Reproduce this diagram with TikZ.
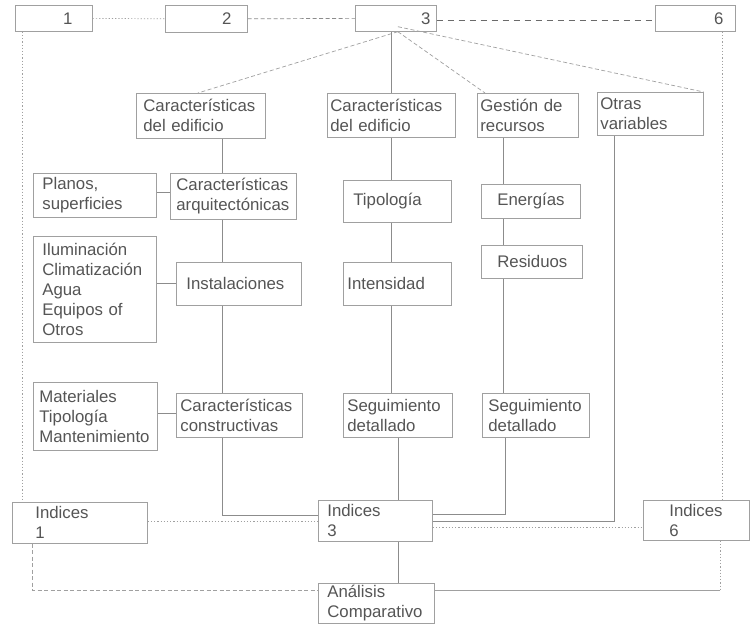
\documentclass[tikz,border=0pt]{standalone}
\usepackage{fontspec}
\setmainfont{Liberation Sans}
\usetikzlibrary{calc}
\definecolor{txt}{HTML}{555555}
\definecolor{frame}{HTML}{A0A0A0}
\definecolor{wire}{HTML}{8C8C8C}
\definecolor{darkwire}{HTML}{6A6A6A}
\begin{document}
\begin{tikzpicture}[x=1pt,y=-1pt,
  box/.style={draw=frame, line width=0.7pt, anchor=north west, inner xsep=0pt, inner ysep=0pt,
    align=left, text=txt, font=\fontsize{16.8}{20}\selectfont},
  numbox/.style={box, align=right},
  wired/.style={draw=wire, line width=0.8pt},
  dashwire/.style={draw=wire, line width=0.7pt, dash pattern=on 4pt off 2.5pt},
  dotwire/.style={draw=frame, line width=0.7pt, dash pattern=on 1.2pt off 2pt},
  bolddash/.style={draw=darkwire, line width=1.1pt, dash pattern=on 6pt off 5pt}]
\useasboundingbox (0,0) rectangle (750,627);
\fill[white] (0,0) rectangle (750,627);

% column and rail positions
\coordinate (colA) at (222,0);
\coordinate (colB) at (391,0);
\coordinate (colB2) at (398,0);
\coordinate (colC) at (503,0);
\coordinate (colC2) at (505,0);
\coordinate (colD) at (614,0);
\coordinate (colL) at (22,0);
\coordinate (colL2) at (32,0);
\coordinate (colR) at (722,0);
\coordinate (colR2) at (720,0);
\coordinate (railA) at (0,515);
\coordinate (railC) at (0,514);
\coordinate (railD) at (0,521);
\coordinate (railI1) at (0,521);
\coordinate (railI6) at (0,527);
\coordinate (railB) at (0,590);

% top row
\node[numbox, minimum width=77, minimum height=26, text width=37] (n1) at (15,5) {1};
\node[numbox, minimum width=82, minimum height=27, text width=50] (n2) at (165,5) {2};
\node[numbox, minimum width=81, minimum height=26, text width=69] (n3) at (355,5) {3};
\node[numbox, minimum width=80, minimum height=26, text width=56] (n6) at (655,5) {6};

% second level
\node[box, minimum width=129, minimum height=45, text width=115] (cA) at (136,93) {Características\\del edificio};
\node[box, minimum width=128, minimum height=44, text width=122] (cB) at (327,93) {Características\\del edificio};
\node[box, minimum width=101, minimum height=44, text width=95] (gR) at (477,93) {Gestión de\\recursos};
\node[box, minimum width=106, minimum height=43, text width=100] (oV) at (597,92) {Otras\\variables\\[-4pt]};

% building characteristics branch
\node[box, minimum width=123, minimum height=44, text width=105] (pS) at (33,173) {Planos,\\superficies};
\node[box, minimum width=126, minimum height=46, text width=114] (cAr) at (170,173) {Características\\arquitectónicas};
\node[box, minimum width=123, minimum height=106, text width=105] (ilu) at (33,236) {Iluminación\\Climatización\\Agua\\Equipos of\\Otros};
\node[box, minimum width=125, minimum height=43, text width=105] (ins) at (176,262) {Instalaciones};
\node[box, minimum width=124, minimum height=68, text width=112] (mat) at (33,382) {Materiales\\Tipología\\Mantenimiento};
\node[box, minimum width=126, minimum height=44, text width=118] (cCo) at (176,393) {Características\\constructivas};

% middle branch
\node[box, minimum width=108, minimum height=42, text width=88] (tip) at (343,180) {Tipología};
\node[box, minimum width=108, minimum height=43, text width=100] (int) at (343,262) {Intensidad};
\node[box, minimum width=109, minimum height=44, text width=101] (seg1) at (343,393) {Seguimiento\\detallado};

% resources branch
\node[box, minimum width=99, minimum height=34, text width=67] (ene) at (481,184) {Energías};
\node[box, minimum width=101, minimum height=33, text width=69] (res) at (481,245) {Residuos};
\node[box, minimum width=107, minimum height=44, text width=95] (seg2) at (482,393) {Seguimiento\\detallado};

% indices and comparison
\node[box, minimum width=135, minimum height=41, text width=89] (i1) at (12,502) {Indices\\1};
\node[box, minimum width=114, minimum height=41, text width=96] (i3) at (318,500) {Indices\\3};
\node[box, minimum width=106, minimum height=40, text width=54] (i6) at (643,500) {Indices\\6};
\node[box, minimum width=116, minimum height=40, text width=98] (an) at (318,583) {Análisis\\Comparativo};

% top row links
\draw[dotwire] (n1.east) -- (n2.west);
\draw[dashwire] (n2.east) -- (n3.west);
\draw[bolddash] ([yshift=-2]n3.east) -- ([yshift=-2]n6.west);

% fan out of block 3
\coordinate (fan) at ([xshift=2]n3.south);
\draw[dashwire, draw=frame] (fan) -- ([xshift=-3]cA.north);
\draw[wired] (n3.south -| colB) -- (cB.north -| colB);
\draw[dashwire, draw=frame] (fan) -- ([xshift=8]gR.north west);
\draw[dashwire, draw=frame] ([yshift=5]fan) -- (oV.north east);

% left branch
\draw[wired] (cA.south -| colA) -- (cAr.north -| colA);
\draw[wired] (cAr.south -| colA) -- (ins.north -| colA);
\draw[wired] (ins.south -| colA) -- (cCo.north -| colA);
\draw[wired] (cCo.south -| colA) -- (colA |- railA) -- (i3.west |- railA);
\draw[wired] ([yshift=3]pS.east) -- ([yshift=3]pS.east -| cAr.west);
\draw[wired] (ins.west -| ilu.east) -- (ins.west);
\draw[wired] ([yshift=3]mat.east) -- ([yshift=3]mat.east -| cCo.west);

% middle branch
\draw[wired] (cB.south -| colB) -- (tip.north -| colB);
\draw[wired] (tip.south -| colB) -- (int.north -| colB);
\draw[wired] (int.south -| colB) -- (seg1.north -| colB);
\draw[wired] (seg1.south -| colB2) -- (i3.north -| colB2);

% resources branch
\draw[wired] (gR.south -| colC) -- (ene.north -| colC);
\draw[wired] (ene.south -| colC) -- (res.north -| colC);
\draw[wired] (res.south -| colC) -- (seg2.north -| colC);
\draw[wired] (seg2.south -| colC2) -- (colC2 |- railC) -- (i3.east |- railC);

% other variables
\draw[wired] (oV.south -| colD) -- (colD |- railD) -- (i3.east |- railD);

% outer rails
\draw[dotwire] (n1.south -| colL) -- (i1.north -| colL);
\draw[dotwire] (n6.south -| colR) -- (i6.north -| colR);
\draw[dotwire] (i1.east |- railI1) -- (i3.west |- railI1);
\draw[dotwire] (i3.east |- railI6) -- (i6.west |- railI6);

% comparison
\draw[wired] (i3.south -| colB2) -- (an.north -| colB2);
\draw[dashwire, draw=frame] (i1.south -| colL2) -- (colL2 |- railB) -- (an.west |- railB);
\draw[dotwire] (i6.south -| colR2) -- (colR2 |- railB);
\draw[wired, draw=frame] (colR2 |- railB) -- (an.east |- railB);
\end{tikzpicture}
\end{document}
